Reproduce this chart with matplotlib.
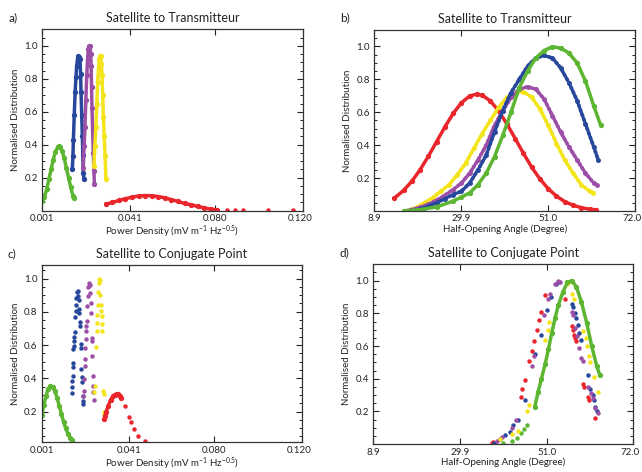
import matplotlib
matplotlib.use("Agg")
import matplotlib.pyplot as plt
import matplotlib.transforms as mtransforms
from matplotlib.ticker import MultipleLocator, FixedLocator

plt.rcParams['font.family'] = ['Lato', 'DejaVu Sans']
plt.rcParams['mathtext.default'] = 'regular'

RED = '#e8262b'
GREEN = '#5db632'
BLUE = '#27479c'
PURPLE = '#9c4fa6'
YELLOW = '#f3e41c'

# ---------------- Panel a: Satellite to Transmitteur, power density ----------------
a_green_x = [0.001, 0.002, 0.003, 0.004, 0.005, 0.006, 0.007, 0.008, 0.0086, 0.009, 0.010, 0.011, 0.012, 0.013, 0.014, 0.015, 0.0153]
a_green_y = [0.06, 0.086, 0.13, 0.19, 0.25, 0.31, 0.357, 0.385, 0.39, 0.388, 0.364, 0.32, 0.26, 0.20, 0.142, 0.09, 0.075]
a_blue_x = [0.0147, 0.0150, 0.0152, 0.0156, 0.0160, 0.0164, 0.0167, 0.0171, 0.0175, 0.0179, 0.0182, 0.0185, 0.0187, 0.0190, 0.0193, 0.0195, 0.0197, 0.0201]
a_blue_y = [0.25, 0.33, 0.43, 0.58, 0.72, 0.81, 0.88, 0.92, 0.94, 0.935, 0.92, 0.83, 0.72, 0.58, 0.45, 0.34, 0.23, 0.19]
a_mag_x = [0.0197, 0.0201, 0.0205, 0.0209, 0.0213, 0.0217, 0.0220, 0.0224, 0.0228, 0.0231, 0.0233, 0.0235, 0.0237, 0.0240, 0.0243, 0.0246, 0.0248]
a_mag_y = [0.26, 0.39, 0.51, 0.67, 0.82, 0.92, 0.98, 1.0, 1.0, 0.95, 0.88, 0.75, 0.62, 0.48, 0.35, 0.24, 0.16]
a_yel_x = [0.0246, 0.0250, 0.0255, 0.0259, 0.0263, 0.0267, 0.0270, 0.0274, 0.0277, 0.0280, 0.0283, 0.0286, 0.0289, 0.0293, 0.0297, 0.0301]
a_yel_y = [0.27, 0.39, 0.51, 0.65, 0.78, 0.87, 0.92, 0.94, 0.94, 0.89, 0.82, 0.70, 0.57, 0.45, 0.33, 0.19]
a_red_x = [0.030, 0.033, 0.036, 0.039, 0.042, 0.045, 0.048, 0.051, 0.054, 0.057, 0.060, 0.063, 0.066, 0.069, 0.072, 0.075, 0.078, 0.081]
a_red_y = [0.039, 0.050, 0.062, 0.073, 0.082, 0.089, 0.092, 0.091, 0.086, 0.078, 0.067, 0.056, 0.044, 0.036, 0.026, 0.017, 0.009, 0.005]
a_red_tail_x = [0.0853, 0.0891, 0.0929, 0.1043, 0.1157]
a_red_tail_y = [0.004, 0.003, 0.003, 0.002, 0.002]

# ---------------- Panel b: Satellite to Transmitteur, half-opening angle ----------------
b_red_x = [13.7, 16, 18, 20, 22, 24, 26, 28, 30, 32, 33.7, 35, 37, 39, 41, 43, 45, 47, 49, 51, 53, 55, 57, 59, 61, 62.5]
b_red_y = [0.077, 0.125, 0.181, 0.251, 0.333, 0.422, 0.511, 0.593, 0.658, 0.699, 0.71, 0.703, 0.669, 0.607, 0.529, 0.44, 0.35, 0.266, 0.194, 0.135, 0.09, 0.057, 0.035, 0.02, 0.011, 0.007]
b_yel_x = [16.7, 19, 21, 23, 25, 27, 29, 31, 33, 35, 37, 39, 41, 43, 45, 47, 49, 51, 53, 55, 57, 59, 61, 61.9]
b_yel_y = [0.0, 0.02, 0.05, 0.08, 0.12, 0.16, 0.22, 0.29, 0.38, 0.47, 0.55, 0.63, 0.69, 0.72, 0.725, 0.69, 0.62, 0.52, 0.41, 0.31, 0.23, 0.16, 0.12, 0.11]
b_mag_x = [16.4, 19, 22, 25, 28, 30, 32, 34, 36, 38, 40, 42, 44, 46, 48, 50, 52, 54, 56, 58, 60, 62, 62.7]
b_mag_y = [0.0, 0.015, 0.04, 0.08, 0.13, 0.17, 0.23, 0.31, 0.40, 0.52, 0.61, 0.69, 0.74, 0.755, 0.74, 0.68, 0.58, 0.48, 0.39, 0.31, 0.23, 0.17, 0.16]
b_blue_x = [18.3, 21, 24, 26, 28, 30, 32, 34, 36, 38, 40, 42, 44, 46, 48, 50, 52, 54, 56, 58, 60, 62, 63.1]
b_blue_y = [0.0, 0.02, 0.05, 0.075, 0.10, 0.12, 0.17, 0.25, 0.34, 0.48, 0.61, 0.72, 0.80, 0.88, 0.93, 0.945, 0.93, 0.87, 0.78, 0.67, 0.53, 0.39, 0.31]
b_green_x = [16, 20, 24, 28, 30, 32, 34, 36, 38, 40, 42, 44, 46, 48, 50, 52, 54, 56, 58, 60, 62, 63.7]
b_green_y = [0.0, 0.008, 0.025, 0.06, 0.085, 0.11, 0.16, 0.23, 0.33, 0.46, 0.60, 0.75, 0.85, 0.93, 0.975, 0.998, 0.99, 0.96, 0.90, 0.79, 0.64, 0.52]

# ---------------- Panel c: Satellite to Conjugate Point, power density ----------------
c_green_x = [0.001, 0.002, 0.003, 0.004, 0.005, 0.006, 0.007, 0.008, 0.009, 0.010, 0.011, 0.012, 0.013, 0.014, 0.0147]
c_green_y = [0.18, 0.24, 0.296, 0.338, 0.354, 0.347, 0.322, 0.283, 0.235, 0.185, 0.139, 0.098, 0.066, 0.042, 0.03]
c_blue_x = [0.01473, 0.01503, 0.01503, 0.01518, 0.01534, 0.01534, 0.01549, 0.01564, 0.0158, 0.01595, 0.0161, 0.0164, 0.01656, 0.01671, 0.01686, 0.01702,
            0.01747, 0.01778, 0.01793, 0.01808, 0.01823, 0.01854, 0.01869, 0.01885, 0.019, 0.01915, 0.0193, 0.01946, 0.01976, 0.01992, 0.02007]
c_blue_y = [0.31, 0.346, 0.385, 0.415, 0.465, 0.489, 0.574, 0.594, 0.624, 0.65, 0.678, 0.77, 0.803, 0.843, 0.883, 0.922,
            0.927, 0.897, 0.869, 0.817, 0.794, 0.737, 0.714, 0.604, 0.584, 0.455, 0.405, 0.376, 0.296, 0.266, 0.246]
c_mag_x = [0.02007, 0.02022, 0.02053, 0.02068, 0.02083, 0.02098, 0.02114, 0.02129, 0.02144, 0.0216, 0.0219, 0.0222, 0.02236, 0.02266,
           0.02312, 0.02327, 0.02342, 0.02358, 0.02388, 0.02403, 0.02418, 0.02434, 0.02449, 0.02464, 0.02479]
c_mag_y = [0.296, 0.325, 0.395, 0.475, 0.515, 0.584, 0.634, 0.684, 0.714, 0.743, 0.833, 0.893, 0.952, 0.972,
           0.962, 0.913, 0.853, 0.794, 0.644, 0.624, 0.534, 0.415, 0.355, 0.316, 0.27]
c_yel_x = [0.0251, 0.0254, 0.02586, 0.02617, 0.02632, 0.02647, 0.02678, 0.02693, 0.02708, 0.02739, 0.02769,
           0.02785, 0.02815, 0.0283, 0.02846, 0.02861, 0.02861, 0.02922, 0.02953, 0.02953, 0.02968]
c_yel_y = [0.316, 0.355, 0.59, 0.684, 0.734, 0.783, 0.843, 0.922, 0.972, 0.998, 0.992,
           0.903, 0.843, 0.803, 0.774, 0.724, 0.684, 0.325, 0.306, 0.196, 0.18]
c_red_x = [0.0297, 0.0300, 0.0305, 0.0315, 0.0325, 0.0338, 0.0345, 0.0353, 0.0361, 0.0369, 0.0375]
c_red_y = [0.155, 0.176, 0.2, 0.236, 0.27, 0.296, 0.302, 0.306, 0.303, 0.296, 0.28]
c_red_tail_x = [0.0392, 0.041, 0.0419, 0.0433, 0.045, 0.0483]
c_red_tail_y = [0.236, 0.167, 0.137, 0.093, 0.053, 0.021]

# ---------------- Panel d: Satellite to Conjugate Point, half-opening angle ----------------
d_green_x = [48.1, 48.9, 49.7, 50.6, 51.4, 52.2, 53.0, 53.8, 54.9, 56.0, 57.1, 58.2, 59.4, 60.7, 61.9, 63.1, 63.9]
d_green_y = [0.23, 0.32, 0.40, 0.49, 0.58, 0.68, 0.77, 0.85, 0.93, 0.99, 1.0, 0.96, 0.87, 0.74, 0.60, 0.48, 0.42]
d_green_tail_x = [38.5, 40.4, 42.5, 43.7, 44.7, 45.5, 46.3]
d_green_tail_y = [0.003, 0.01, 0.02, 0.04, 0.07, 0.09, 0.12]
d_red_x = [37.6, 38.0, 44.7, 45.1, 45.7, 46.8, 47.3, 47.9, 48.6, 49.1, 49.6, 50.6, 55.4,
           57.2, 57.4, 57.6, 57.9, 58.2, 59.9, 60.1, 61.0, 61.2, 62.7]
d_red_y = [0.01, 0.015, 0.29, 0.34, 0.39, 0.51, 0.57, 0.63, 0.70, 0.76, 0.81, 0.91, 0.89,
           0.72, 0.70, 0.67, 0.65, 0.63, 0.37, 0.35, 0.29, 0.27, 0.16]
d_blue_x = [38.1, 39.6, 40.9, 42.1, 42.9, 44.1, 45.7, 48.1, 49.6, 51.1, 51.9, 53.2, 54.0,
            57.1, 57.4, 57.9, 58.1, 58.5, 58.8, 59.2, 60.9, 61.5, 62.1, 62.4, 62.8, 63.1]
d_blue_y = [0.01, 0.03, 0.055, 0.075, 0.12, 0.15, 0.27, 0.55, 0.67, 0.82, 0.90, 0.98, 0.99,
            0.86, 0.84, 0.80, 0.77, 0.73, 0.68, 0.64, 0.42, 0.34, 0.30, 0.27, 0.23, 0.20]
d_mag_x = [38.8, 40.1, 42.5, 43.5, 47.3, 47.9, 50.2, 51.4, 51.8, 53.0, 53.8, 54.1,
           57.1, 57.4, 57.9, 58.3, 58.9, 59.4, 59.7, 61.1, 61.7, 62.1, 62.8, 63.4]
d_mag_y = [0.02, 0.045, 0.10, 0.15, 0.48, 0.54, 0.79, 0.89, 0.92, 0.98, 1.0, 0.99,
           0.81, 0.79, 0.71, 0.66, 0.59, 0.53, 0.51, 0.35, 0.31, 0.28, 0.22, 0.19]
d_yel_x = [39.6, 42.5, 43.9, 46.1, 46.8, 50.6, 51.4, 51.6, 55.9, 56.4, 57.1, 57.7,
           59.9, 60.4, 60.8, 61.2, 61.6, 62.4, 63.4]
d_yel_y = [0.03, 0.06, 0.08, 0.20, 0.24, 0.64, 0.70, 0.75, 0.98, 0.99, 0.92, 0.89,
           0.69, 0.65, 0.60, 0.54, 0.50, 0.41, 0.32]

PD_TICKS = [0.001, 0.041, 0.080, 0.120]
PD_LABELS = ['0.001', '0.041', '0.080', '0.120']
ANG_TICKS = [8.9, 29.9, 51.0, 72.0]
ANG_LABELS = ['8.9', '29.9', '51.0', '72.0']
Y_TICKS = [0.2, 0.4, 0.6, 0.8, 1.0]
Y_LABELS = ['0.2', '0.4', '0.6', '0.8', '1.0']

fig = plt.figure(figsize=(6.42, 4.72), dpi=100)
ax_a = fig.add_axes([0.0659, 0.5536, 0.4056, 0.3843])
ax_b = fig.add_axes([0.5830, 0.5530, 0.4061, 0.3835])
ax_c = fig.add_axes([0.0650, 0.0630, 0.4050, 0.3750])
ax_d = fig.add_axes([0.5815, 0.0590, 0.4050, 0.3810])


def style(ax, xticks, xlabels, xlabel, title, letter, xlim, ylim=(0, 1.1)):
    ax.set_xlim(*xlim)
    ax.set_ylim(*ylim)
    ax.xaxis.set_major_locator(FixedLocator(xticks))
    ax.set_xticklabels(xlabels)
    ax.yaxis.set_major_locator(FixedLocator(Y_TICKS))
    ax.set_yticklabels(Y_LABELS)
    ax.yaxis.set_minor_locator(MultipleLocator(0.05))
    ax.tick_params(which='both', direction='in', top=True, right=True, labelsize=7, colors='#222222')
    ax.tick_params(axis='x', pad=2.5)
    ax.tick_params(axis='y', pad=3)
    ax.tick_params(which='major', length=4, width=0.8)
    ax.tick_params(which='minor', length=2, width=0.7)
    for s in ax.spines.values():
        s.set_color('#333333')
        s.set_linewidth(0.9)
    ax.set_xlabel(xlabel, fontsize=7, labelpad=0.5, color='#222222')
    ax.set_ylabel('Normalised Distribution', fontsize=7, labelpad=3, color='#222222')
    ax.set_title(title, fontsize=9, pad=5, color='#222222')
    ax.text(-0.13, 1.035, letter, transform=ax.transAxes, fontsize=8.5, color='#222222', va='bottom')
    # keep the right-most tick label inside the figure
    last = ax.get_xticklabels()[-1]
    last.set_transform(last.get_transform() + mtransforms.ScaledTranslation(-3 / 100, 0, fig.dpi_scale_trans))


PD_LABEL = 'Power Density (mV m$^{-1}$ Hz$^{-0.5}$)'
ANG_LABEL = 'Half-Opening Angle (Degree)'

dense = dict(lw=2.5, marker='o', ms=2.8, solid_capstyle='round')
dotted = dict(lw=2.7, linestyle=(0, (0.6, 0.7)), dash_capstyle='round', marker='o', ms=2.5)
pts = dict(linestyle='none', marker='o', ms=3.2, mew=0)

# Panel a
ax_a.plot(a_green_x, a_green_y, color=GREEN, **dense)
ax_a.plot(a_blue_x, a_blue_y, color=BLUE, **dense)
ax_a.plot(a_mag_x, a_mag_y, color=PURPLE, **dense)
ax_a.plot(a_yel_x, a_yel_y, color=YELLOW, **dense)
ax_a.plot(a_red_x, a_red_y, color=RED, **dense)
ax_a.plot(a_red_tail_x, a_red_tail_y, color=RED, **pts)
style(ax_a, PD_TICKS, PD_LABELS, PD_LABEL, 'Satellite to Transmitteur', 'a)', (0.001, 0.120))

# Panel b
ax_b.plot(b_red_x, b_red_y, color=RED, **dense)
ax_b.plot(b_yel_x, b_yel_y, color=YELLOW, **dotted)
ax_b.plot(b_mag_x, b_mag_y, color=PURPLE, **dotted)
ax_b.plot(b_blue_x, b_blue_y, color=BLUE, **dotted)
ax_b.plot(b_green_x, b_green_y, color=GREEN, **dense)
style(ax_b, ANG_TICKS, ANG_LABELS, ANG_LABEL, 'Satellite to Transmitteur', 'b)', (8.9, 72.0))

# Panel c
ax_c.plot(c_green_x, c_green_y, color=GREEN, **dense)
ax_c.plot(c_blue_x, c_blue_y, color=BLUE, **pts)
ax_c.plot(c_mag_x, c_mag_y, color=PURPLE, **pts)
ax_c.plot(c_yel_x, c_yel_y, color=YELLOW, **pts)
ax_c.plot(c_red_x, c_red_y, color=RED, **dense)
ax_c.plot(c_red_tail_x, c_red_tail_y, color=RED, **pts)
style(ax_c, PD_TICKS, PD_LABELS, PD_LABEL, 'Satellite to Conjugate Point', 'c)', (0.001, 0.120), ylim=(0.015, 1.08))

# Panel d
ax_d.plot(d_green_tail_x, d_green_tail_y, color=GREEN, **pts)
ax_d.plot(d_red_x, d_red_y, color=RED, **pts)
ax_d.plot(d_blue_x, d_blue_y, color=BLUE, **pts)
ax_d.plot(d_mag_x, d_mag_y, color=PURPLE, **pts)
ax_d.plot(d_yel_x, d_yel_y, color=YELLOW, **pts)
ax_d.plot(d_green_x, d_green_y, color=GREEN, **dense)
style(ax_d, ANG_TICKS, ANG_LABELS, ANG_LABEL, 'Satellite to Conjugate Point', 'd)', (8.9, 72.0))

fig.savefig('out.png', dpi=100)
